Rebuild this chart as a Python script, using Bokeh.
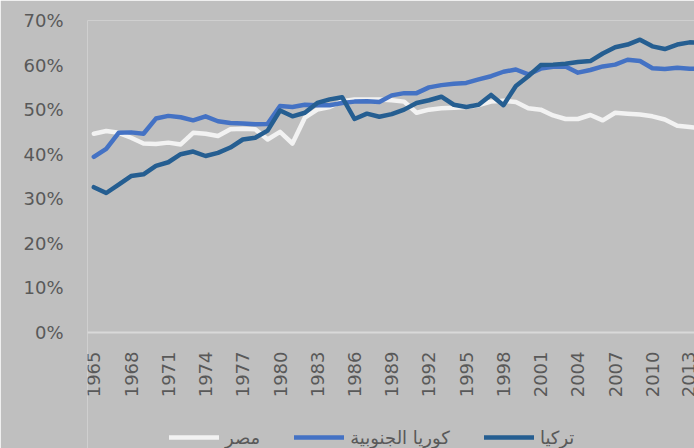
import math
from bokeh.plotting import figure
from bokeh.models import (Legend, LegendItem, FixedTicker, Range1d,
                          PrintfTickFormatter, LinearAxis)
from bokeh.embed import file_html
from bokeh.resources import INLINE

# ---------------- data (percent) ----------------
years = list(range(1965, 2015))

egypt = [44.6, 45.2, 44.8, 43.7, 42.4, 42.3, 42.6, 42.2, 44.8, 44.6,
         44.1, 45.6, 45.7, 45.6, 43.3, 45.0, 42.4, 48.2, 50.0, 50.6,
         51.9, 52.3, 52.3, 52.3, 52.1, 51.8, 49.3, 50.0, 50.3, 50.4,
         50.6, 51.0, 51.8, 52.0, 51.7, 50.3, 50.0, 48.7, 47.9, 47.9,
         48.8, 47.6, 49.3, 49.1, 48.9, 48.5, 47.8, 46.4, 46.1, 45.8]

korea = [39.4, 41.2, 44.8, 44.9, 44.6, 48.0, 48.6, 48.3, 47.6, 48.5,
         47.4, 47.0, 46.9, 46.7, 46.8, 50.8, 50.6, 51.1, 51.0, 51.0,
         51.5, 51.8, 51.9, 51.7, 53.2, 53.7, 53.7, 55.0, 55.5, 55.8,
         56.0, 56.8, 57.5, 58.5, 59.0, 57.9, 59.2, 59.6, 59.7, 58.3,
         58.9, 59.7, 60.1, 61.2, 60.9, 59.3, 59.1, 59.4, 59.2, 59.2]

turkey = [32.6, 31.3, 33.2, 35.1, 35.5, 37.4, 38.2, 40.0, 40.6, 39.6,
          40.3, 41.5, 43.3, 43.7, 45.3, 49.8, 48.5, 49.3, 51.5, 52.3,
          52.8, 47.9, 49.1, 48.4, 49.0, 50.0, 51.5, 52.1, 52.9, 51.1,
          50.6, 51.1, 53.3, 51.0, 55.3, 57.5, 60.0, 60.1, 60.3, 60.7,
          60.9, 62.6, 64.0, 64.6, 65.7, 64.2, 63.6, 64.6, 65.1, 65.0]

series_names = ["مصر", "كوريا الجنوبية", "تركيا"]
x_ticks = list(range(1965, 2014, 3))
y_ticks = [0, 10, 20, 30, 40, 50, 60, 70]

# ---------------- styling ----------------
BG = "#bfbfbf"
TXT = "#595959"
FONT = "DejaVu Sans"
colors = ["#f2f2f2", "#4472c4", "#255e91"]
LW = 4.5

# frame runs from y=20 to the bottom (448); 0% sits at y=332
Y_TOP = 70
Y_BOTTOM = -(448 - 332) * Y_TOP / (332 - 20)

p = figure(width=694, height=448, output_backend="svg", toolbar_location=None,
           x_range=Range1d(1964.49, 2013.39), y_range=Range1d(Y_BOTTOM, Y_TOP),
           x_axis_location=None,
           min_border_left=87, min_border_right=0, min_border_top=20,
           min_border_bottom=0)

p.background_fill_color = BG
p.border_fill_color = BG
p.outline_line_color = None
p.xgrid.visible = False
p.ygrid.visible = False

renderers = []
for vals, col in zip([egypt, korea, turkey], colors):
    renderers.append(p.line(years, vals, line_color=col, line_width=LW,
                            line_join="round", line_cap="round"))

# y axis
p.yaxis.ticker = FixedTicker(ticks=y_ticks)
p.yaxis.formatter = PrintfTickFormatter(format="%d%%")
p.yaxis.axis_line_color = None
p.yaxis.major_tick_line_color = None
p.yaxis.minor_tick_line_color = None
p.yaxis.major_tick_out = 0
p.yaxis.major_tick_in = 0
p.yaxis.major_label_standoff = 24
p.yaxis.major_label_text_font = FONT
p.yaxis.major_label_text_font_size = "18px"
p.yaxis.major_label_text_color = TXT

# x axis pinned at 0%
xaxis = LinearAxis(fixed_location=0, ticker=FixedTicker(ticks=x_ticks))
xaxis.axis_line_color = "#d9d9d9"
xaxis.axis_line_width = 2
xaxis.major_tick_line_color = None
xaxis.minor_tick_line_color = None
xaxis.major_tick_out = 0
xaxis.major_tick_in = 0
xaxis.major_label_orientation = math.pi / 2
xaxis.major_label_standoff = 19
xaxis.major_label_text_font = FONT
xaxis.major_label_text_font_size = "18px"
xaxis.major_label_text_color = TXT
p.add_layout(xaxis, "below")

legend = Legend(
    items=[LegendItem(label=n, renderers=[r]) for n, r in zip(series_names, renderers)],
    orientation="horizontal", location=(82, 0),
    glyph_width=50, glyph_height=22, spacing=34, label_standoff=6,
    padding=0, margin=0, border_line_color=None, background_fill_alpha=0,
    label_text_font=FONT, label_text_font_size="18px", label_text_color=TXT,
)
p.add_layout(legend, "center")

html = file_html(p, INLINE)
html = html.replace("<body>", '<body style="background-color:#bfbfbf;">', 1)
open("out.html", "w").write(html)
